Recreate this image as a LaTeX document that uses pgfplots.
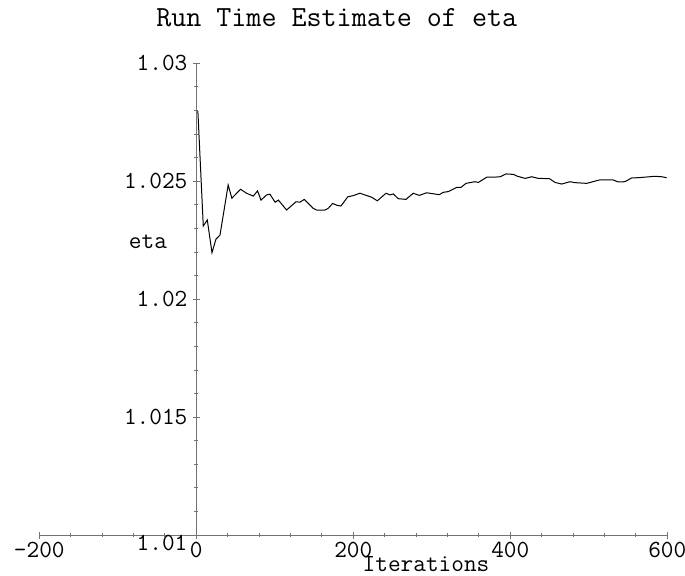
\documentclass[border=0pt]{standalone}
\usepackage{pgfplots}
\pgfplotsset{compat=1.18}
\begin{document}
\begin{tikzpicture}
\begin{axis}[
  at={(0,0)}, anchor=south west,
  scale only axis, width=314pt, height=235.85pt,
  xmin=-200, xmax=600, ymin=1.01, ymax=1.03,
  axis x line=bottom, axis y line=middle,
  every inner x axis line/.append style={-},
  every outer x axis line/.append style={-},
  every inner y axis line/.append style={-},
  every outer y axis line/.append style={-},
  axis line style={-, draw=black!55, line width=0.5pt},
  xtick={-200,0,200,400,600}, xticklabels={-200,0,200,400,600},
  ytick={1.01,1.015,1.02,1.025,1.03},
  yticklabels={\raisebox{-4.25pt}[7pt][0pt]{1.01},1.015,1.02,1.025,1.03},
  minor x tick num=4, minor y tick num=4,
  tick align=center, major tick length=3.5pt, minor tick length=1.8pt,
  every tick/.style={draw=black!55, line width=0.4pt},
  hide obscured x ticks=false, hide obscured y ticks=false,
  tick label style={font=\ttfamily\fontsize{12.3}{14}\selectfont, text=black},
  xticklabel style={anchor=base, inner sep=0pt, yshift=-9.3pt},
  yticklabel style={anchor=east, inner sep=0pt, xshift=-2.5pt},
  title={Run Time Estimate of eta},
  every axis title/.style={at={(0.4736,1.079)}, anchor=base, font=\ttfamily\fontsize{14.6}{17}\selectfont},
  xlabel={Iterations},
  every axis x label/.style={at={(0.6158,-0.0772)}, anchor=base, inner sep=0pt, font=\ttfamily\fontsize{12.3}{14}\selectfont},
  ylabel={eta},
  every axis y label/.style={at={(0.1731,0.6078)}, anchor=base, font=\ttfamily\fontsize{12.3}{14}\selectfont},
  clip=false,
]
\addplot[black, line width=0.5pt, mark=none] coordinates {
(2,1.02798) (8.9,1.0231) (14,1.02336) (20,1.02197) (25,1.02254) (30.2,1.02272)
(40.6,1.02484) (45.3,1.02428) (56.4,1.02466) (64,1.02449) (72.6,1.02437) (78,1.02459)
(82.4,1.02420) (89.6,1.02442) (93.8,1.02445) (100.4,1.02411) (104.6,1.0242) (115,1.02378)
(127,1.02413) (132,1.02411) (137.6,1.02423) (149,1.02385) (153.3,1.02378) (164,1.02378)
(168,1.02385) (173.8,1.02406) (179,1.02398) (184.3,1.02395) (193,1.02434) (200,1.02439)
(208.5,1.02449) (223.5,1.02432) (230.6,1.02417) (241.7,1.02449) (246.8,1.02442) (251,1.02446)
(257.3,1.02426) (267.1,1.02423) (276.4,1.02449) (284,1.0244) (293.4,1.02451) (309.5,1.02443)
(314.6,1.02453) (321,1.02456) (331.7,1.02474) (337.2,1.02474) (343.6,1.02491) (355,1.02498)
(359.4,1.02495) (370,1.02517) (378.5,1.02517) (387,1.02519) (394.7,1.02531) (404,1.02529)
(408.3,1.02522) (418.9,1.02512) (427.4,1.02519) (435.8,1.02512) (449.8,1.02511) (457,1.02495)
(465.5,1.02488) (476,1.02498) (482.4,1.02494) (497.3,1.02491) (514.3,1.02506) (530.5,1.02506)
(537.6,1.02497) (546,1.02498) (554.6,1.02514) (563,1.02515) (573.8,1.02518) (584.3,1.02521)
(592.8,1.02519) (599.2,1.02515)
};
\end{axis}
\pgfresetboundingbox
\path[use as bounding box] (-19.65pt,-20pt) rectangle (322.85pt,267.5pt);
\end{tikzpicture}
\end{document}
